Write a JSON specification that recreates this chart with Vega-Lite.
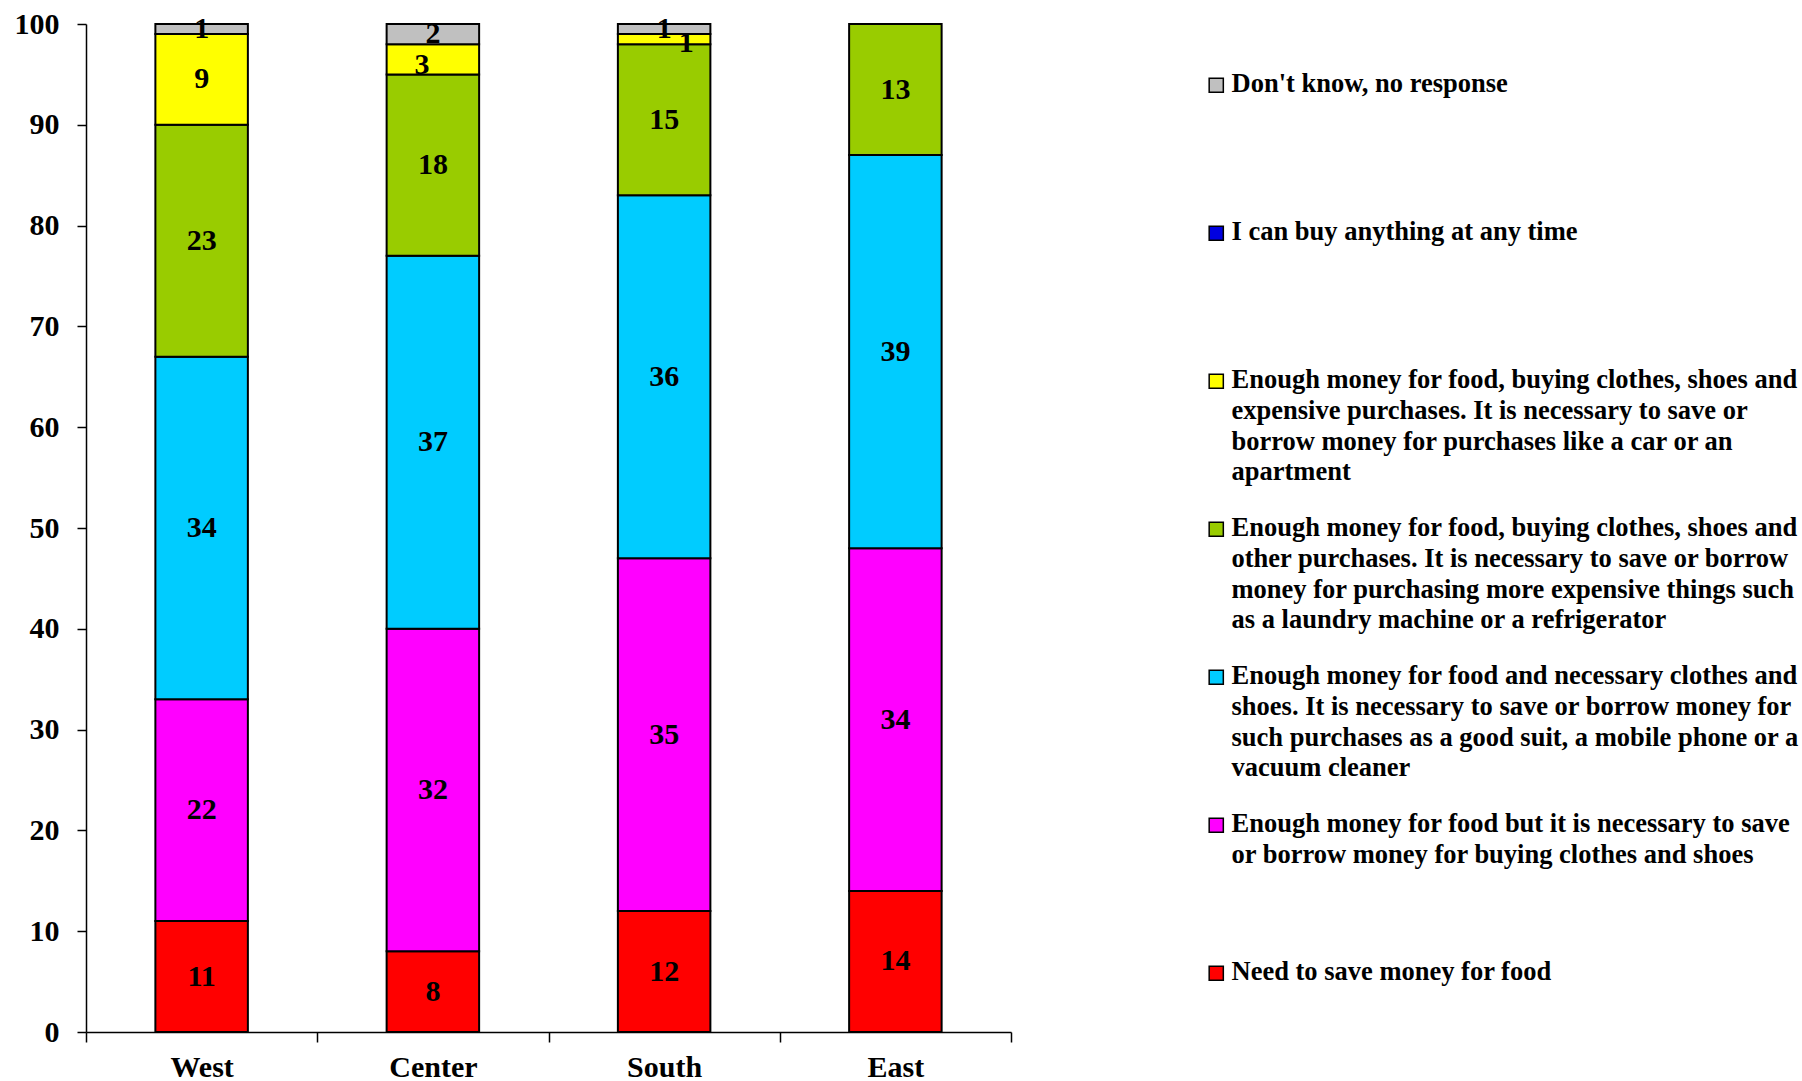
{
  "$schema": "https://vega.github.io/schema/vega-lite/v6.json",
  "autosize": {"type": "none"},
  "width": 925,
  "height": 1008,
  "padding": {"left": 86, "top": 24, "right": 791, "bottom": 49},
  "background": "white",
  "config": {
    "view": {"stroke": null},
    "font": "Liberation Serif"
  },
  "data": {
    "values": [
      {"region": "West", "cat": "Need to save money for food", "k": 1, "v": 11},
      {"region": "West", "cat": "Enough money for food but it is necessary to save\nor borrow money for buying clothes and shoes", "k": 2, "v": 22},
      {"region": "West", "cat": "Enough money for food and necessary clothes and\nshoes. It is necessary to save or borrow money for\nsuch purchases as a good suit, a mobile phone or a\nvacuum cleaner", "k": 3, "v": 34},
      {"region": "West", "cat": "Enough money for food, buying clothes, shoes and\nother purchases. It is necessary to save or borrow\nmoney for purchasing more expensive things such\nas a laundry machine or a refrigerator", "k": 4, "v": 23},
      {"region": "West", "cat": "Enough money for food, buying clothes, shoes and\nexpensive purchases. It is necessary to save or\nborrow money for purchases like a car or an\napartment", "k": 5, "v": 9},
      {"region": "West", "cat": "Don't know, no response", "k": 7, "v": 1},

      {"region": "Center", "cat": "Need to save money for food", "k": 1, "v": 8},
      {"region": "Center", "cat": "Enough money for food but it is necessary to save\nor borrow money for buying clothes and shoes", "k": 2, "v": 32},
      {"region": "Center", "cat": "Enough money for food and necessary clothes and\nshoes. It is necessary to save or borrow money for\nsuch purchases as a good suit, a mobile phone or a\nvacuum cleaner", "k": 3, "v": 37},
      {"region": "Center", "cat": "Enough money for food, buying clothes, shoes and\nother purchases. It is necessary to save or borrow\nmoney for purchasing more expensive things such\nas a laundry machine or a refrigerator", "k": 4, "v": 18},
      {"region": "Center", "cat": "Enough money for food, buying clothes, shoes and\nexpensive purchases. It is necessary to save or\nborrow money for purchases like a car or an\napartment", "k": 5, "v": 3},
      {"region": "Center", "cat": "Don't know, no response", "k": 7, "v": 2},

      {"region": "South", "cat": "Need to save money for food", "k": 1, "v": 12},
      {"region": "South", "cat": "Enough money for food but it is necessary to save\nor borrow money for buying clothes and shoes", "k": 2, "v": 35},
      {"region": "South", "cat": "Enough money for food and necessary clothes and\nshoes. It is necessary to save or borrow money for\nsuch purchases as a good suit, a mobile phone or a\nvacuum cleaner", "k": 3, "v": 36},
      {"region": "South", "cat": "Enough money for food, buying clothes, shoes and\nother purchases. It is necessary to save or borrow\nmoney for purchasing more expensive things such\nas a laundry machine or a refrigerator", "k": 4, "v": 15},
      {"region": "South", "cat": "Enough money for food, buying clothes, shoes and\nexpensive purchases. It is necessary to save or\nborrow money for purchases like a car or an\napartment", "k": 5, "v": 1},
      {"region": "South", "cat": "Don't know, no response", "k": 7, "v": 1},

      {"region": "East", "cat": "Need to save money for food", "k": 1, "v": 14},
      {"region": "East", "cat": "Enough money for food but it is necessary to save\nor borrow money for buying clothes and shoes", "k": 2, "v": 34},
      {"region": "East", "cat": "Enough money for food and necessary clothes and\nshoes. It is necessary to save or borrow money for\nsuch purchases as a good suit, a mobile phone or a\nvacuum cleaner", "k": 3, "v": 39},
      {"region": "East", "cat": "Enough money for food, buying clothes, shoes and\nother purchases. It is necessary to save or borrow\nmoney for purchasing more expensive things such\nas a laundry machine or a refrigerator", "k": 4, "v": 13}
    ]
  },
  "transform": [
    {"stack": "v", "groupby": ["region"], "sort": [{"field": "k", "order": "ascending"}], "as": ["v0", "v1"]},
    {"calculate": "(datum.v0 + datum.v1) / 2", "as": "mid"}
  ],
  "encoding": {
    "x": {
      "field": "region",
      "type": "nominal",
      "sort": ["West", "Center", "South", "East"],
      "scale": {"paddingInner": 0, "paddingOuter": 0},
      "axis": {
        "title": null,
        "labelAngle": 0,
        "labelFont": "Liberation Serif",
        "labelFontWeight": "bold",
        "labelFontSize": 30,
        "labelColor": "black",
        "labelPadding": 10,
        "tickBand": "extent",
        "tickSize": 10,
        "tickColor": "black",
        "tickWidth": 1.5,
        "domainColor": "black",
        "domainWidth": 1.5
      }
    }
  },
  "layer": [
    {
      "mark": {"type": "bar", "stroke": "black", "strokeWidth": 2, "width": {"band": 0.4}},
      "encoding": {
        "y": {
          "field": "v0",
          "type": "quantitative",
          "scale": {"domain": [0, 100], "nice": false},
          "axis": {
            "title": null,
            "values": [0, 10, 20, 30, 40, 50, 60, 70, 80, 90, 100],
            "grid": false,
            "labelFont": "Liberation Serif",
            "labelFontWeight": "bold",
            "labelFontSize": 30,
            "labelColor": "black",
            "labelPadding": 18,
            "tickSize": 9,
            "tickColor": "black",
            "tickWidth": 1.5,
            "domainColor": "black",
            "domainWidth": 1.5
          }
        },
        "y2": {"field": "v1"},
        "color": {
          "field": "cat",
          "type": "nominal",
          "scale": {
            "domain": [
              "Don't know, no response",
              "I can buy anything at any time",
              "Enough money for food, buying clothes, shoes and\nexpensive purchases. It is necessary to save or\nborrow money for purchases like a car or an\napartment",
              "Enough money for food, buying clothes, shoes and\nother purchases. It is necessary to save or borrow\nmoney for purchasing more expensive things such\nas a laundry machine or a refrigerator",
              "Enough money for food and necessary clothes and\nshoes. It is necessary to save or borrow money for\nsuch purchases as a good suit, a mobile phone or a\nvacuum cleaner",
              "Enough money for food but it is necessary to save\nor borrow money for buying clothes and shoes",
              "Need to save money for food"
            ],
            "range": ["#C0C0C0", "#0000E0", "#FFFF00", "#99CC00", "#00CCFF", "#FF00FF", "#FF0000"]
          },
          "legend": {
            "title": null,
            "orient": "none",
            "legendX": 1117,
            "legendY": 48,
            "padding": 0,
            "columns": 1,
            "gridAlign": "all",
            "rowPadding": 29,
            "symbolType": "square",
            "symbolSize": 200,
            "symbolStrokeColor": "black",
            "symbolStrokeWidth": 1.5,
            "labelFont": "Liberation Serif",
            "labelFontWeight": "bold",
            "labelFontSize": 26.5,
            "labelColor": "black",
            "labelLimit": 700,
            "labelOffset": 2,
            "labelBaseline": "top",
            "labelExpr": "split(datum.label, '\\n')",
            "encode": {"labels": {"update": {"dy": {"value": -14}, "lineHeight": {"value": 30.7}}}}
          }
        },
        "order": {"field": "k", "type": "quantitative"}
      }
    },
    {
      "transform": [{"filter": "!((datum.region == 'South' || datum.region == 'Center') && datum.k == 5)"}],
      "mark": {"type": "text", "font": "Liberation Serif", "fontWeight": "bold", "fontSize": 30, "color": "black", "baseline": "middle", "align": "center"},
      "encoding": {
        "y": {"field": "mid", "type": "quantitative"},
        "text": {"field": "v", "type": "quantitative"}
      }
    },
    {
      "transform": [{"filter": "datum.region == 'South' && datum.k == 5"}],
      "mark": {"type": "text", "font": "Liberation Serif", "fontWeight": "bold", "fontSize": 30, "color": "black", "baseline": "middle", "align": "center", "dx": 22, "dy": 4},
      "encoding": {
        "y": {"field": "mid", "type": "quantitative"},
        "text": {"field": "v", "type": "quantitative"}
      }
    },
    {
      "transform": [{"filter": "datum.region == 'Center' && datum.k == 5"}],
      "mark": {"type": "text", "font": "Liberation Serif", "fontWeight": "bold", "fontSize": 30, "color": "black", "baseline": "middle", "align": "center", "dx": -11, "dy": 6},
      "encoding": {
        "y": {"field": "mid", "type": "quantitative"},
        "text": {"field": "v", "type": "quantitative"}
      }
    }
  ]
}
